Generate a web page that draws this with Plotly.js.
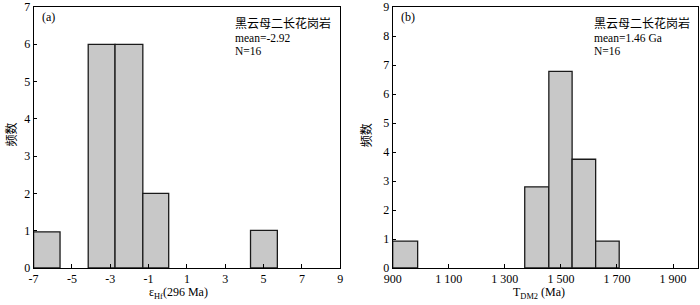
<!DOCTYPE html>
<html><head><meta charset="utf-8">
<script src="https://cdn.plot.ly/plotly-3.0.1.min.js"></script>
<style>html,body{margin:0;padding:0;background:#fff;}#c{width:700px;height:305px;}</style>
</head><body><div id="c"></div>
<script>
// Panel (a): εHf(296 Ma) histogram
const binLeftA  = [-7.0, -4.15, -2.75, -1.3, 4.32];
const binRightA = [-5.62, -2.75, -1.3, 0.05, 5.72];
const countsA   = [0.97, 6, 6, 2, 1.01];
const tickValsA = [-7, -5, -3, -1, 1, 3, 5, 7, 9];
const tickTextA = ["-7", "-5", "-3", "-1", "1", "3", "5", "7", "9"];

// Panel (b): TDM2 (Ma) histogram
const binLeftB  = [900, 1371, 1457, 1540, 1624];
const binRightB = [989, 1457, 1540, 1624, 1708];
const countsB   = [0.93, 2.8, 6.78, 3.75, 0.93];
const tickValsB = [900, 1100, 1300, 1500, 1700, 1900];
const tickTextB = ["900", "1 100", "1 300", "1 500", "1 700", "1 900"];

const FONT = "Liberation Serif, Times New Roman, serif";
const CJK = "Noto Sans CJK SC, serif";

function barTrace(lefts, rights, counts, xa, ya) {
  return {
    type: "bar",
    x: lefts.map((l, i) => (l + rights[i]) / 2),
    width: lefts.map((l, i) => rights[i] - l),
    y: counts,
    xaxis: xa, yaxis: ya,
    marker: {color: "#c8c8c8", line: {color: "#1a1a1a", width: 1.3}},
    hoverinfo: "skip", showlegend: false
  };
}

const axBase = {
  showline: true, linecolor: "#000", linewidth: 1, mirror: true,
  ticks: "inside", ticklen: 4, tickcolor: "#000", showgrid: false, zeroline: false,
  tickfont: {family: FONT, size: 12, color: "#000"}, fixedrange: true
};

function ann(x, y, text, font, size, extra) {
  return Object.assign({xref: "paper", yref: "paper", x: x, y: y, xanchor: "left", yanchor: "middle",
    text: text, showarrow: false, font: {family: font, size: size, color: "#000"}}, extra || {});
}

const layout = {
  width: 700, height: 305,
  margin: {l: 0, r: 0, t: 7, b: 37},
  paper_bgcolor: "#fff", plot_bgcolor: "#fff",
  bargap: 0, showlegend: false,
  xaxis: Object.assign({}, axBase, {domain: [0.048, 0.486], range: [-7, 9], tickvals: tickValsA, ticktext: tickTextA, anchor: "y"}),
  yaxis: Object.assign({}, axBase, {domain: [0, 1], range: [0, 7], dtick: 1, anchor: "x", ticklen: 3}),
  xaxis2: Object.assign({}, axBase, {domain: [0.561, 0.9975], range: [900, 1990], tickvals: tickValsB, ticktext: tickTextB, anchor: "y2"}),
  yaxis2: Object.assign({}, axBase, {domain: [0, 1], range: [0, 9], dtick: 1, anchor: "x2", ticklen: 3}),
  annotations: [
    ann(0.057, 0.96, "(a)", FONT, 12),
    ann(0.333, 0.9406, "黑云母二长花岗岩", CJK, 12),
    ann(0.333, 0.8831, "mean=-2.92", FONT, 11.5),
    ann(0.333, 0.8333, "N=16", FONT, 11.5),
    ann(0.015, 0.51, "频数", CJK, 12, {xanchor: "center", textangle: -90}),
    ann(0.255, -0.096, "ε<sub>Hf</sub>(296 Ma)", FONT, 12, {xanchor: "center"}),

    ann(0.57, 0.96, "(b)", FONT, 12),
    ann(0.845, 0.9406, "黑云母二长花岗岩", CJK, 12),
    ann(0.845, 0.8831, "mean=1.46 Ga", FONT, 11.5),
    ann(0.845, 0.8333, "N=16", FONT, 11.5),
    ann(0.522, 0.51, "频数", CJK, 12, {xanchor: "center", textangle: -90}),
    ann(0.77, -0.096, "T<sub>DM2</sub> (Ma)", FONT, 12, {xanchor: "center"})
  ]
};

Plotly.newPlot("c", [
  barTrace(binLeftA, binRightA, countsA, "x", "y"),
  barTrace(binLeftB, binRightB, countsB, "x2", "y2")
], layout, {displayModeBar: false, staticPlot: true});
</script>
</body></html>
